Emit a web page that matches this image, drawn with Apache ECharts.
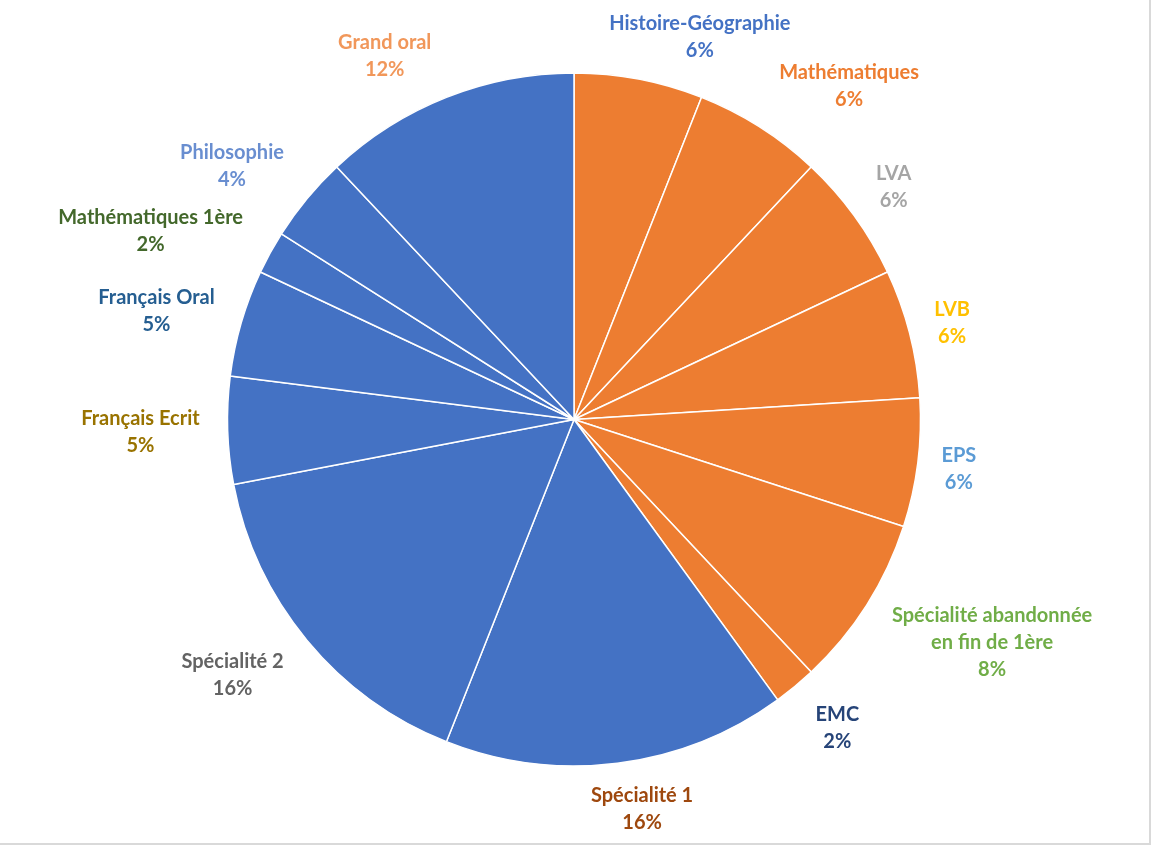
<!DOCTYPE html>
<html>
<head>
<meta charset="utf-8">
<script src="https://cdn.jsdelivr.net/npm/echarts@6/dist/echarts.min.js"></script>
<style>
  html, body { margin: 0; padding: 0; background: #fff; }
  #chart { width: 1151px; height: 845px; box-sizing: border-box;
           border-right: 2px solid #d9d9d9; border-bottom: 2px solid #d9d9d9; }
</style>
</head>
<body>
<div id="chart"></div>
<script>
// épreuves du bac et leur poids
var subjects = ["Histoire-Géographie", "Mathématiques", "LVA", "LVB", "EPS",
  "Spécialité abandonnée\nen fin de 1ère", "EMC", "Spécialité 1", "Spécialité 2",
  "Français Ecrit", "Français Oral", "Mathématiques 1ère", "Philosophie", "Grand oral"];
var weights = [6, 6, 6, 6, 6, 8, 2, 16, 16, 5, 5, 2, 4, 12];

// couleurs
var sliceColors = ["#ED7D31", "#ED7D31", "#ED7D31", "#ED7D31", "#ED7D31", "#ED7D31", "#ED7D31",
  "#4472C4", "#4472C4", "#4472C4", "#4472C4", "#4472C4", "#4472C4", "#4472C4"];
var labelColors = ["#4472C4", "#ED7D31", "#A5A5A5", "#FFC000", "#5B9BD5", "#70AD47", "#264478",
  "#9E480E", "#636363", "#997300", "#255E91", "#43682B", "#698ED0", "#F1975A"];
// petits décalages des étiquettes (comme dans le graphique d'origine)
var labelNudge = [[39, 7], [38, 1], [4, 0], [0, 2], [-2, 0], [19, 4], [12, 3],
  [15, -3], [-15, 3], [-2, 0], [-4, 2], [-16, 2], [-15, -1], [-35, 5]];

var CX = 574, CY = 419.5, R = 346.5, GAP = 26;

var total = 0;
for (var i = 0; i < weights.length; i++) total += weights[i];
var mids = [], cum = 0;
for (var i = 0; i < weights.length; i++) {
  mids.push((cum + weights[i] / 2) / total * 2 * Math.PI);
  cum += weights[i];
}

var pieData = [];
for (var i = 0; i < subjects.length; i++) {
  pieData.push({
    name: subjects[i],
    value: weights[i],
    itemStyle: { color: sliceColors[i] },
    label: { color: labelColors[i] }
  });
}

var myChart = echarts.init(document.getElementById('chart'));
var option = {
  animation: false,
  series: [{
    type: 'pie',
    center: [CX, CY],
    radius: R,
    startAngle: 90,
    clockwise: true,
    percentPrecision: 0,
    itemStyle: { borderColor: '#fff', borderWidth: 1.5 },
    label: {
      show: true,
      position: 'outside',
      fontFamily: 'Lato',
      fontWeight: 'bold',
      fontSize: 20,
      formatter: '{n|{b}}\n{n|{d}%}',
      rich: {
        n: { align: 'center', lineHeight: 27, fontFamily: 'Lato', fontWeight: 'bold', fontSize: 20 }
      }
    },
    labelLine: { show: false },
    emphasis: { disabled: true },
    labelLayout: function (p) {
      var a = mids[p.dataIndex];
      var dx = Math.sin(a), dy = -Math.cos(a);
      var w = p.labelRect.width, h = p.labelRect.height;
      var s = labelNudge[p.dataIndex];
      return {
        x: CX + (R + GAP) * dx + dx * w / 2 + s[0],
        y: CY + (R + GAP) * dy + dy * h / 2 + s[1],
        align: 'center',
        verticalAlign: 'middle'
      };
    },
    data: pieData
  }]
};
myChart.setOption(option);
</script>
</body>
</html>
